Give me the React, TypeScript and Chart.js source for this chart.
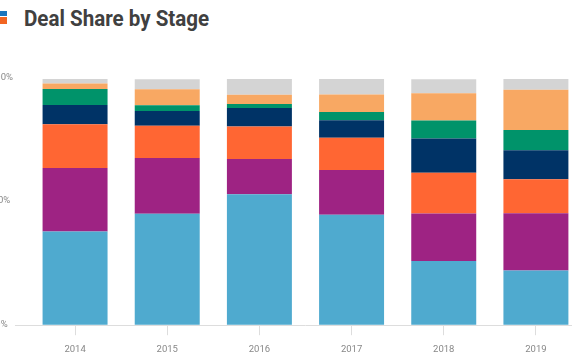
import React, { useEffect, useRef, useState } from "react";
import { Chart, registerables } from "chart.js";

Chart.register(...registerables);

const years = ["2014", "2015", "2016", "2017", "2018", "2019"];
const stageNames = ["Stage 1", "Stage 2", "Stage 3", "Stage 4", "Stage 5", "Stage 6", "Other"];
const stage1 = [38.1, 45.3, 53.2, 44.9, 26.1, 22.2];
const stage2 = [25.7, 22.6, 14.3, 18.1, 19.3, 23.3];
const stage3 = [17.8, 13.1, 13.2, 13.1, 16.5, 13.8];
const stage4 = [7.8, 6.0, 7.5, 7.1, 13.9, 11.8];
const stage5 = [6.5, 2.3, 1.6, 3.4, 7.3, 8.2];
const stage6 = [2.3, 6.5, 3.8, 7.1, 11.1, 16.3];
const other = [1.8, 4.1, 6.4, 6.4, 5.7, 4.5];
const yTicks = [0, 50, 100];
const colors = ["#4FAACF", "#9E2383", "#FF6633", "#003366", "#00936A", "#F8A863", "#D4D4D4"];

export default function App() {
  const canvasRef = useRef<HTMLCanvasElement | null>(null);
  const titleRef = useRef<HTMLSpanElement | null>(null);
  const [scale, setScale] = useState(1);

  useEffect(() => {
    if (titleRef.current) {
      const w = titleRef.current.offsetWidth;
      if (w > 0) setScale(185 / w);
    }
  }, []);

  useEffect(() => {
    const canvas = canvasRef.current;
    if (!canvas) return;
    const series = [stage1, stage2, stage3, stage4, stage5, stage6, other];
    const chart = new Chart(canvas, {
      type: "bar",
      data: {
        labels: years,
        datasets: series.map((d, i) => ({
          label: stageNames[i],
          data: d,
          backgroundColor: colors[i],
          borderWidth: 0,
          barPercentage: 0.705,
          categoryPercentage: 1,
        })),
      },
      options: {
        responsive: false,
        animation: false,
        layout: { padding: { top: 75, left: 0, right: 0, bottom: 0 } },
        plugins: { legend: { display: false }, tooltip: { enabled: false }, title: { display: false } },
        scales: {
          x: {
            stacked: true,
            border: { display: false },
            grid: {
              offset: false,
              drawOnChartArea: false,
              drawTicks: true,
              tickLength: 10,
              color: "#DDDDDD",
            },
            ticks: {
              color: "#888888",
              font: { family: "Roboto", size: 9.5 },
              padding: 8.7,
            },
          },
          y: {
            stacked: true,
            min: 0,
            max: 100,
            afterBuildTicks: (axis: any) => {
              axis.ticks = yTicks.map((v) => ({ value: v }));
            },
            border: { display: false },
            grid: {
              drawTicks: true,
              tickLength: 14,
              color: (ctx: any) => (ctx.tick && ctx.tick.value === 0 ? "#DDDDDD" : "rgba(0,0,0,0)"),
            },
            ticks: {
              color: "#888888",
              font: { family: "Roboto", size: 9.5 },
              padding: 2,
              crossAlign: "center",
              labelOffset: -1,
              callback: (v: any) => v + "%",
            },
          },
        },
      },
    });
    return () => chart.destroy();
  }, []);

  return (
    <div style={{ position: "fixed", left: 0, top: 0, width: 572, height: 364, overflow: "hidden", background: "#fff" }}>
      <div style={{ position: "absolute", left: 0, top: 11, width: 7, height: 5, background: "#1B75BC" }} />
      <div style={{ position: "absolute", left: 0, top: 17, width: 7, height: 7, background: "#F26522" }} />
      <div
        style={{
          position: "absolute",
          left: 24,
          top: 4,
          whiteSpace: "nowrap",
          transform: `scaleX(${scale})`,
          transformOrigin: "left top",
        }}
      >
        <span
          ref={titleRef}
          style={{ fontFamily: "Roboto", fontWeight: 700, fontSize: 22, color: "#404040", lineHeight: "30px", display: "inline-block" }}
        >
          Deal Share by Stage
        </span>
      </div>
      <canvas
        ref={canvasRef}
        width={594}
        height={360}
        style={{ position: "absolute", left: -12, top: 4, width: 594, height: 360 }}
      />
    </div>
  );
}
